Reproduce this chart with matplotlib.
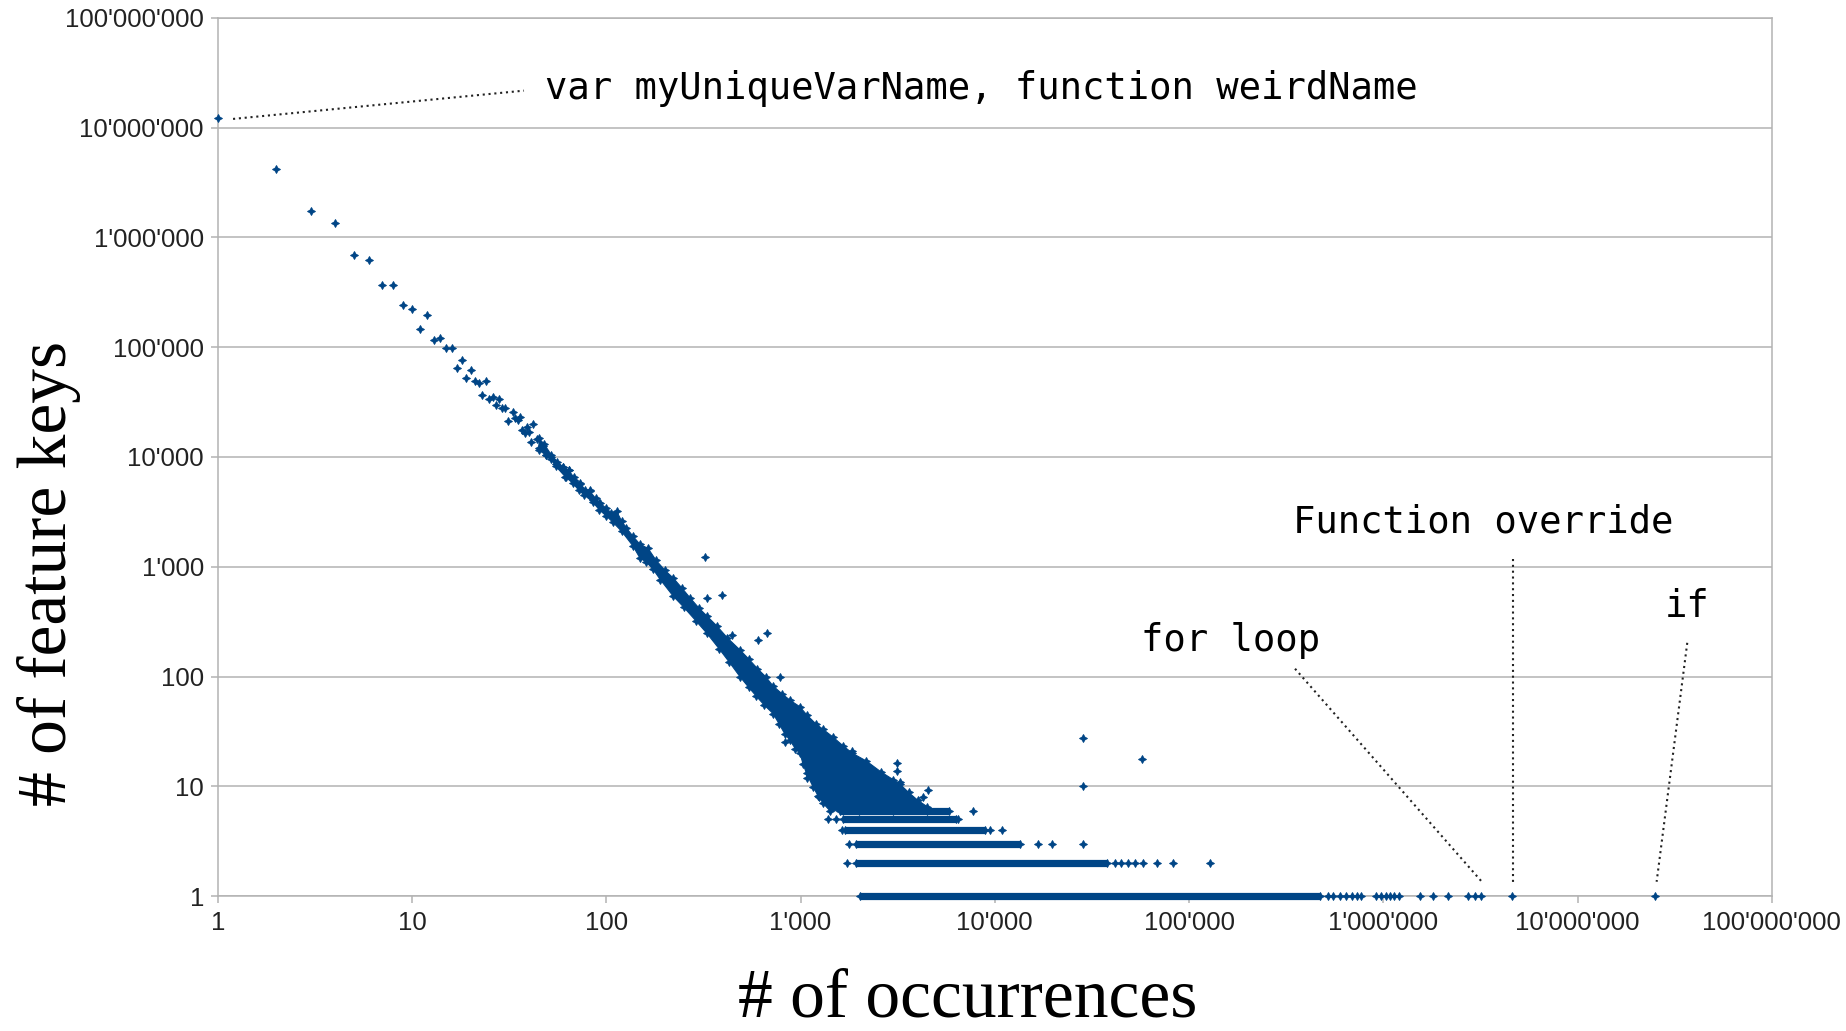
import numpy as np
import matplotlib.pyplot as plt
from matplotlib.ticker import FuncFormatter, LogLocator, NullLocator

plt.rcParams["font.family"] = "Liberation Sans"

BLUE = "#004586"
GRID = "#b3b3b3"
INK = "#222222"

# head of the distribution: x = # of occurrences, y = # of feature keys
head_x = [1, 2, 3, 4, 5, 6, 7, 8, 9, 10, 11, 12, 13, 14, 15, 16, 17, 18, 19, 20,
          21, 22, 23, 24, 25, 26, 27, 28, 29, 30, 31, 33, 34, 35, 36, 37, 38, 39,
          40, 41, 42, 44, 45, 47, 49, 52, 55, 60, 62, 64, 68, 73, 78, 82, 85, 92]
head_y = [12.1e6, 4.16e6, 1.74e6, 1.35e6, 695e3, 617e3, 368e3, 368e3, 244e3, 222e3,
          147e3, 195e3, 117e3, 121e3, 97.5e3, 97.5e3, 65e3, 76e3, 52.6e3, 62e3,
          49e3, 47.5e3, 36.6e3, 49e3, 34e3, 35e3, 29.7e3, 33.5e3, 28e3, 27.8e3,
          21.4e3, 25.8e3, 22.5e3, 21.5e3, 23e3, 17.7e3, 16.4e3, 18.6e3,
          17e3, 13.6e3, 20e3, 14.6e3, 12.1e3, 12.6e3, 10.4e3, 10e3, 8.7e3, 8.1e3,
          6.6e3, 7.6e3, 6.2e3, 5.7e3, 4.8e3, 5.0e3, 4.05e3, 3.8e3]

# dense band / blob: outer points along its upper and lower edge
band_top_x = [45, 48, 52, 56, 60, 64, 68, 73, 78, 82, 88, 93, 100, 106, 113, 120, 127,
              137, 149, 164, 180, 200, 221, 245, 270, 300, 330, 370, 420, 487, 540,
              600, 660, 722, 800, 881, 993, 1073, 1200, 1308, 1473, 1650, 1850, 2183,
              2600, 3000, 3243, 3600, 4000, 4500]
band_top_y = [14.8e3, 13e3, 10.5e3, 9e3, 8.1e3, 7.6e3, 6.5e3, 5.8e3, 5e3, 4.9e3, 4.2e3,
              3.8e3, 3.4e3, 3.1e3, 3.2e3, 2.6e3, 2.25e3, 1.9e3, 1.6e3, 1.47e3, 1.15e3,
              930, 790, 640, 520, 420, 355, 290, 225, 175, 145, 118, 100, 82, 70, 61,
              53, 45, 37, 33, 28, 23.5, 20, 17, 13.5, 11.5, 10.5, 8.8, 7.5, 6.5]
band_bottom_x = [45, 49, 52, 55, 61.5, 67, 72, 77, 85, 92, 100, 108, 120, 137, 149, 161,
                 174, 190, 221, 250, 290, 328, 380, 430, 487, 540, 593, 650, 722, 776,
                 830, 881, 940, 993, 1030, 1073, 1160, 1230, 1308, 1415, 2000, 3000, 4500]
band_bottom_y = [11.5e3, 10.4e3, 9.5e3, 8.2e3, 6.6e3, 5.8e3, 5e3, 4.5e3, 3.9e3, 3.3e3,
                 2.9e3, 2.55e3, 2.1e3, 1.55e3, 1.2e3, 1.1e3, 950, 760, 540, 430, 320,
                 250, 180, 135, 100, 80, 66, 55, 46, 37, 30, 26.4, 22, 20, 16, 13.1,
                 9.9, 8.2, 7.0, 6.0, 6.0, 6.0, 6.0]

# rows of small counts that look solid
run_level = [1, 2, 3, 4, 5, 6]
run_start = [2018, 1940, 1940, 1700, 1656, 1590]
run_end = [470e3, 37.6e3, 13.5e3, 8.9e3, 6.3e3, 5.8e3]

# isolated points on those rows
ones_x = [519e3, 551e3, 597e3, 646e3, 686e3, 728e3, 772e3, 922e3, 977e3, 1.03e6,
          1.08e6, 1.13e6, 1.21e6, 1.54e6, 1.8e6, 2.15e6, 2.73e6, 2.96e6, 3.2e6,
          4.6e6, 25.1e6]
twos_x = [1730, 41.5e3, 44.5e3, 48.5e3, 52.5e3, 57.7e3, 68.4e3, 82.7e3, 128e3]
threes_x = [1770, 16.6e3, 19.6e3, 28.6e3]
fours_x = [1625, 9.4e3, 10.9e3]
fives_x = [1385, 1520, 6.5e3]
sixes_x = [7.7e3]

# stray points off the main band
outlier_x = [323, 330, 392, 442, 605, 668, 780, 830, 1073, 1250, 1830, 2950, 3120,
             3120, 3250, 4270, 4540, 28.6e3, 28.6e3, 57.5e3]
outlier_y = [1230, 515, 555, 239, 215, 247, 99, 25.5, 11.8, 8, 21, 11, 16.2,
             13.9, 11, 8, 9.2, 27.7, 10, 17.7]

fig = plt.figure(figsize=(18.46, 10.31), dpi=100)
ax = fig.add_axes([0.1180, 0.1308, 0.8418, 0.8520])
ax.set_xscale("log")
ax.set_yscale("log")
ax.set_xlim(1, 1e8)
ax.set_ylim(1, 1e8)

mk = dict(ls="none", marker=(4, 1, 0), ms=5.8, color=BLUE, mec=BLUE, mew=0.6,
          clip_on=False, zorder=3)

ax.fill(band_top_x + band_bottom_x[::-1], band_top_y + band_bottom_y[::-1],
        color=BLUE, lw=0.8, zorder=3)
ax.plot(band_top_x, band_top_y, **mk)
ax.plot(band_bottom_x, band_bottom_y, **mk)
ax.plot(head_x, head_y, **mk)

ax.hlines(run_level, run_start, run_end, colors=BLUE, lw=5.2, clip_on=False, zorder=3)
ax.plot(run_start + run_end, run_level + run_level, **mk)
for xs, lvl in [(ones_x, 1), (twos_x, 2), (threes_x, 3), (fours_x, 4),
                (fives_x, 5), (sixes_x, 6)]:
    ax.plot(xs, [lvl] * len(xs), **mk)
ax.plot(outlier_x, outlier_y, **mk)

# axes styling
for axis in (ax.xaxis, ax.yaxis):
    axis.set_major_locator(LogLocator(base=10, numticks=12))
    axis.set_minor_locator(NullLocator())
    axis.set_major_formatter(FuncFormatter(lambda v, _: f"{v:,.0f}".replace(",", "'")))
ax.yaxis.grid(True, color=GRID, lw=1.1)
ax.set_axisbelow(True)
for s in ax.spines.values():
    s.set_color(GRID)
    s.set_linewidth(1.1)
ax.tick_params(which="major", direction="out", length=5, width=1.1, color=GRID,
               labelsize=18.5, labelcolor=INK)
ax.tick_params(axis="y", pad=5)
ax.tick_params(axis="x", pad=5.5)

# annotations
dots = dict(ls=(0, (1, 1.8)), lw=1.5, color=INK, transform=ax.transAxes, clip_on=False)
mono = dict(family="DejaVu Sans Mono", fontsize=26.8, color="black", va="baseline",
            ha="left", transform=ax.transAxes)
ax.plot([0.0098, 0.197], [0.8848, 0.917], **dots)
ax.text(0.2106, 0.9076, "var myUniqueVarName, function weirdName", **mono)
ax.plot([0.6932, 0.8143], [0.2589, 0.0146], **dots)
ax.text(0.5939, 0.2792, "for loop", **mono)
ax.plot([0.8333, 0.8333], [0.3835, 0.0126], **dots)
ax.text(0.6917, 0.4144, "Function override", **mono)
ax.plot([0.9456, 0.9259], [0.2884, 0.0164], **dots)
ax.text(0.9311, 0.3178, "if", **mono)

serif = dict(family="Liberation Serif", fontsize=50, color="black")
fig.text(0.5242, 0.0145, "# of occurrences", ha="center", va="baseline", **serif)
fig.text(0.0265, 0.4436, "# of feature keys", rotation=90, ha="center", va="center",
         **serif)

fig.savefig("out.png", dpi=100)
